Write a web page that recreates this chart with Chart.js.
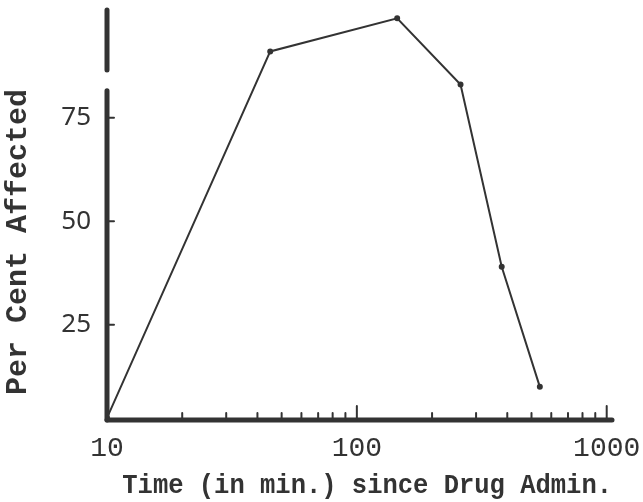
<!DOCTYPE html>
<html>
<head>
<meta charset="utf-8">
<script src="https://cdn.jsdelivr.net/npm/chart.js@4/dist/chart.umd.min.js"></script>
<style>
  body { margin: 0; background: #fff; }
</style>
</head>
<body>
<canvas id="drug-chart" width="643" height="502"></canvas>
<script>
/* data */
const times = [10, 45, 145, 260, 380, 540];      // minutes since drug admin.
const percent = [2.5, 91, 99, 83, 39, 10];       // per cent affected
const xTicks = [10, 20, 30, 40, 50, 60, 70, 80, 90, 100,
                200, 300, 400, 500, 600, 700, 800, 900, 1000];
const xLabels = [10, 100, 1000];
const yTicks = [25, 50, 75];

const ink = "#333";

// axes drawn by hand: broken y axis, thick x axis, inward ticks
const axesPlugin = {
    id: "oldAxes",
    afterDraw(chart) {
        const ctx = chart.ctx;
        const xs = chart.scales.x;
        const ys = chart.scales.y;
        const area = chart.chartArea;
        ctx.save();
        ctx.strokeStyle = ink;
        ctx.lineCap = "round";

        // y axis in two pieces (break between 82 and 86)
        ctx.lineWidth = 5;
        ctx.beginPath();
        ctx.moveTo(area.left, area.top);
        ctx.lineTo(area.left, ys.getPixelForValue(86.5));
        ctx.moveTo(area.left, ys.getPixelForValue(81.5));
        ctx.lineTo(area.left, area.bottom);
        ctx.stroke();

        // x axis
        ctx.beginPath();
        ctx.moveTo(area.left, area.bottom);
        ctx.lineTo(area.right, area.bottom);
        ctx.stroke();

        // x ticks pointing up
        ctx.lineWidth = 2;
        ctx.beginPath();
        xTicks.forEach(v => {
            const px = xs.getPixelForValue(v);
            const len = xLabels.includes(v) ? 14 : 7;
            ctx.moveTo(px, area.bottom);
            ctx.lineTo(px, area.bottom - len);
        });
        ctx.stroke();

        // y ticks pointing right
        ctx.beginPath();
        yTicks.forEach(v => {
            const py = ys.getPixelForValue(v);
            ctx.moveTo(area.left, py);
            ctx.lineTo(area.left + 7, py);
        });
        ctx.stroke();
        ctx.restore();
    }
};

const data = {
    datasets: [{
        data: times.map((t, i) => ({ x: t, y: percent[i] })),
        borderColor: ink,
        backgroundColor: ink,
        borderWidth: 2,
        pointRadius: 2,
        tension: 0,
        fill: false
    }]
};

const config = {
    type: "line",
    data: data,
    options: {
        responsive: false,
        animation: false,
        layout: { padding: { top: 10, right: 31, left: 0, bottom: 0 } },
        plugins: {
            legend: { display: false },
            tooltip: { enabled: false }
        },
        scales: {
            x: {
                type: "logarithmic",
                min: 10,
                max: 1050,
                grid: { display: false },
                border: { display: false },
                afterBuildTicks: scale => { scale.ticks = xTicks.map(v => ({ value: v })); },
                afterFit: scale => {
                    scale.height = 82;
                    scale.paddingLeft = 0;
                    scale.paddingRight = 0;
                },
                ticks: {
                    autoSkip: false,
                    maxRotation: 0,
                    padding: 4,
                    color: ink,
                    font: { family: "Liberation Mono", size: 28 },
                    callback: v => xLabels.includes(v) ? String(v) : ""
                },
                title: {
                    display: true,
                    text: " Time (in min.) since Drug Admin.",
                    color: ink,
                    padding: { top: 0, bottom: 0 },
                    font: { family: "Liberation Mono", size: 27, weight: "bold" }
                }
            },
            y: {
                min: 2,
                max: 101,
                grid: { display: false },
                border: { display: false },
                afterBuildTicks: scale => { scale.ticks = yTicks.map(v => ({ value: v })); },
                afterFit: scale => {
                    scale.width = 107;
                    scale.paddingTop = 0;
                    scale.paddingBottom = 0;
                },
                ticks: {
                    padding: 8,
                    color: ink,
                    font: { family: "Noto Sans", size: 26 }
                },
                title: {
                    display: true,
                    text: "Per Cent Affected   ",
                    color: ink,
                    padding: { top: 0, bottom: 4 },
                    font: { family: "Liberation Mono", size: 30, weight: "bold" }
                }
            }
        }
    },
    plugins: [axesPlugin]
};

const ctx = document.getElementById("drug-chart").getContext("2d");
const drugChart = new Chart(ctx, config);
</script>
</body>
</html>
